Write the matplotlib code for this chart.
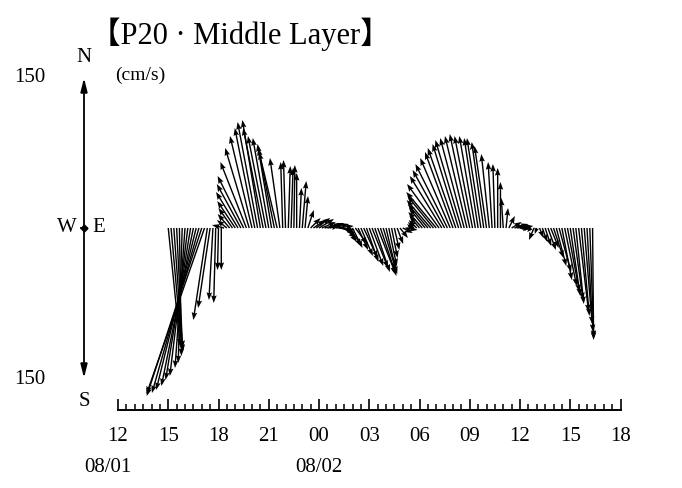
import numpy as np
import pandas as pd
import matplotlib
matplotlib.use("Agg")
import matplotlib.pyplot as plt
from matplotlib.ticker import MultipleLocator, FixedLocator

SERIF = ["Liberation Serif", "DejaVu Serif"]
TITLE_FONT = ["Liberation Serif", "Noto Sans CJK JP"]

# 10-minute current vectors (cm/s), starting 08/01 15:00; one row per hour
u_east = [
    12, 11, 9, 6, 2, -4,            # 15h
    -10, -18, -25, -32, -40, -47,   # 16h
    -55, -58, -14, -12, -4, -2,     # 17h
    -1, 0, -12, -10, -12, -14,      # 18h
    -18, -22, -24, -26, -26, -24,   # 19h
    -22, -20, -20, -18, -20, -18,   # 20h
    -16, -14, -16, -18, -10, -2,    # 21h
    -2, 2, 2, 1, 0, 2,              # 22h
    4, 3, 6, 10, 12, 14,            # 23h
    15, 14, 16, 12, 14, 16,         # 00h
    18, 16, 14, 12, 10, 12,         # 01h
    10, 12, 10, 12, 14, 12,         # 02h
    14, 16, 15, 18, 16, 14,         # 03h
    10, 8, 6, 5, 6, 8,              # 04h
    10, 12, 6, -4, -6, -8,          # 05h
    -10, -14, -16, -20, -24, -26,   # 06h
    -30, -32, -32, -32, -32, -30,   # 07h
    -28, -28, -26, -26, -24, -22,   # 08h
    -20, -18, -16, -14, -14, -12,   # 09h
    -12, -8, -4, -2, 0, 0,          # 10h
    -2, 2, 6, 10, 14, 16,           # 11h
    12, 8, -8, -12, -4, -5,         # 12h
    -2, 4, 5, 6, 8, 8,              # 13h
    10, 10, 12, 10, 12, 12,         # 14h
    10, 10, 8, 10, 8, 8,            # 15h
    6, 4, 1,                        # 16h
]
v_north = [
    -118, -122, -124, -120, -128, -135,
    -140, -148, -152, -158, -162, -165,
    -168, -166, -92, -80, -72, -75,
    -42, -42, 3, 8, 14, 20,
    27, 36, 44, 52, 66, 80,
    92, 100, 106, 108, 100, 92,
    90, 84, 80, 76, 70, 66,
    68, 62, 60, 63, 55, 40,
    47, 32, 18, 10, 8, 10,
    9, 6, 4, 2, 5, 4,
    2, -2, -5, -10, -14, -18,
    -20, -16, -22, -28, -30, -34,
    -38, -40, -44, -46, -48, -46,
    -42, -38, -30, -22, -16, -10,
    -5, -2, 1, 4, 6, 8,
    12, 16, 20, 24, 28, 32,
    36, 44, 52, 58, 64, 70,
    76, 80, 84, 88, 90, 92,
    94, 92, 92, 90, 90, 86,
    82, 74, 66, 64, 60, 46,
    30, 20, 12, 6, 4, 2,
    0, -1, 3, 2, -4, -12,
    -6, -10, -14, -18, -22, -20,
    -30, -38, -44, -52, -58, -64,
    -68, -72, -76, -84, -88, -96,
    -104, -110, -112,
]

stamps = pd.date_range("2000-08-01 15:00", periods=len(u_east), freq="10min")
origin = pd.Timestamp("2000-08-01 12:00")
hours = (stamps - origin) / pd.Timedelta(hours=1)

tick_hours = [0, 3, 6, 9, 12, 15, 18, 21, 24, 27, 30]
tick_labels = ["12", "15", "18", "21", "00", "03", "06", "09", "12", "15", "18"]
date_labels = [(-0.6, "08/01"), (12, "08/02")]
scale_speed = 150

fig = plt.figure(figsize=(6.82, 4.88), dpi=100)
ax = fig.add_axes([118 / 682, 78 / 488, 502.5 / 682, 332 / 488])
ax.set_xlim(0, 30)
ax.set_ylim(-182, 150)

ax.quiver(hours, np.zeros(len(hours)), u_east, v_north,
          angles="uv", scale_units="y", scale=1, pivot="tail",
          units="dots", width=1.4, headwidth=4, headlength=5.5,
          headaxislength=4.8, color="black", linewidth=0, clip_on=False)

for side in ("top", "right", "left"):
    ax.spines[side].set_visible(False)
ax.spines["bottom"].set_linewidth(1.4)
ax.set_yticks([])
ax.xaxis.set_major_locator(FixedLocator(tick_hours))
ax.xaxis.set_minor_locator(MultipleLocator(0.5))
ax.set_xticklabels(tick_labels, fontfamily=SERIF, fontsize=15)
ax.tick_params(axis="x", which="major", direction="in", length=8, width=1.2, pad=12)
ax.tick_params(axis="x", which="minor", direction="in", length=4.5, width=1.1)

for xd, txt in date_labels:
    ax.text(xd, -240, txt, ha="center", va="center", fontsize=15,
            fontfamily=SERIF, clip_on=False)

# compass scale bar: N / S arrows of 150 cm/s
xc = -2.03
arrow_kw = dict(arrowstyle="-|>,head_length=0.8,head_width=0.2", color="black",
                lw=1.3, shrinkA=0, shrinkB=0)
ax.annotate("", xy=(xc, scale_speed), xytext=(xc, 0), arrowprops=arrow_kw,
            annotation_clip=False)
ax.annotate("", xy=(xc, -scale_speed), xytext=(xc, 0), arrowprops=arrow_kw,
            annotation_clip=False)
ax.plot([xc - 0.2, xc + 0.2], [0, 0], color="black", lw=1.3, clip_on=False)
ax.plot([xc], [0], marker="D", ms=3.5, color="black", clip_on=False)
ax.text(xc, 171, "N", ha="center", va="center", fontsize=15, fontfamily=SERIF, clip_on=False)
ax.text(xc, -174, "S", ha="center", va="center", fontsize=15, fontfamily=SERIF, clip_on=False)
ax.text(xc - 0.45, 0, "W", ha="right", va="center", fontsize=15, fontfamily=SERIF, clip_on=False)
ax.text(xc + 0.5, 0, "E", ha="left", va="center", fontsize=15, fontfamily=SERIF, clip_on=False)
ax.text(-5.25, scale_speed, "150", ha="center", va="center", fontsize=15,
        fontfamily=SERIF, clip_on=False)
ax.text(-5.25, -scale_speed - 2, "150", ha="center", va="center", fontsize=15,
        fontfamily=SERIF, clip_on=False)
ax.text(1.35, scale_speed + 3, "(cm/s)", ha="center", va="center", fontsize=14,
        fontfamily=SERIF, clip_on=False)

fig.text(240 / 682, 1 - 34 / 488, "【P20 · Middle Layer】", ha="center", va="center",
         fontsize=22, fontfamily=TITLE_FONT)

fig.savefig("out.png", dpi=100)
